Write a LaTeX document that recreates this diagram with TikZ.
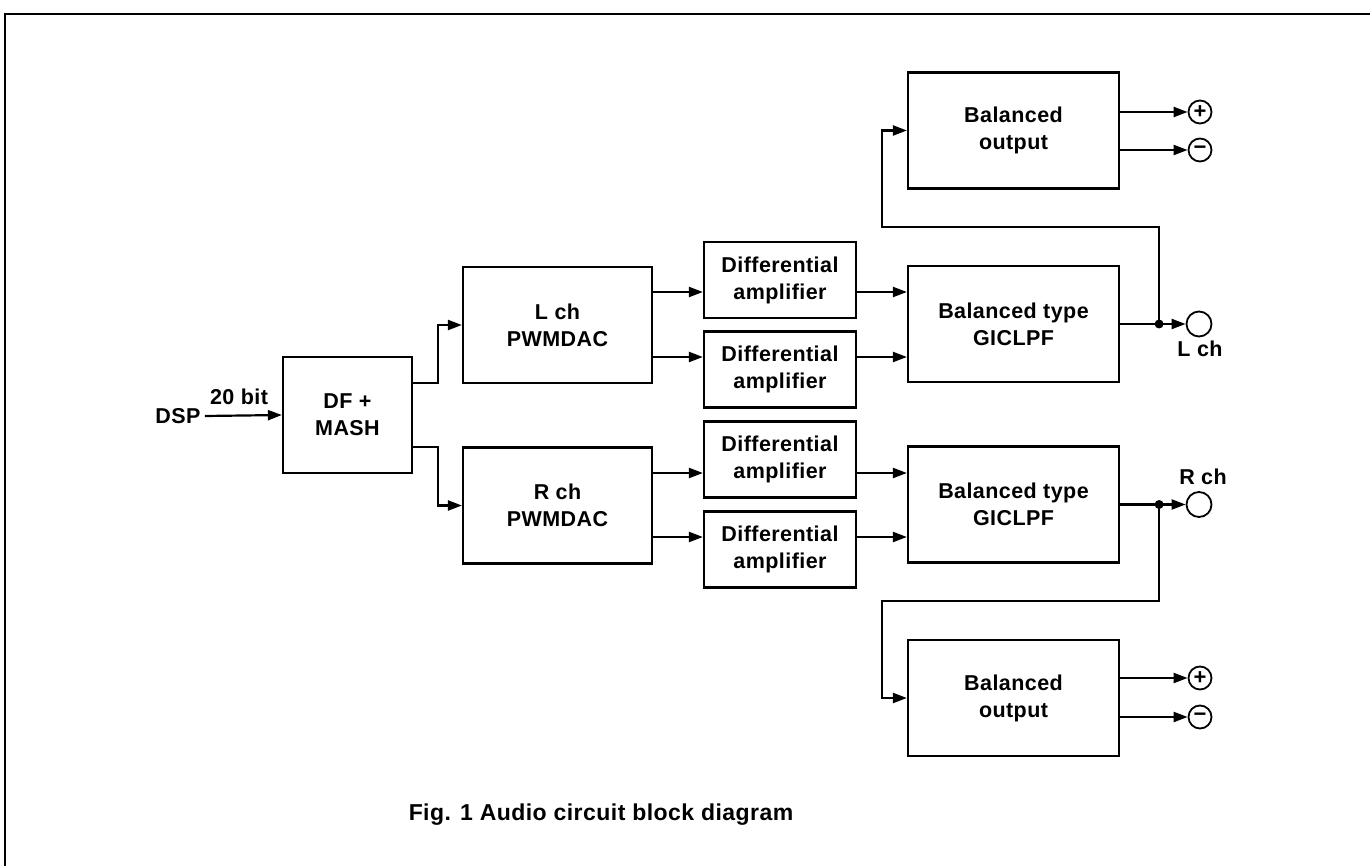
\documentclass[tikz,border=0pt]{standalone}
\usepackage{fontspec}
\setmainfont{Liberation Sans}[LetterSpace=2.0]
\usetikzlibrary{arrows.meta}

\begin{document}
\begin{tikzpicture}[x=1pt,y=-1pt,line width=2.2pt,
  blk/.style={draw,rectangle,align=center,inner sep=0pt,font=\bfseries\fontsize{21.5}{27}\selectfont},
  lbl/.style={font=\bfseries\fontsize{21.5}{27}\selectfont},
  term/.style={draw,circle,inner sep=0pt,line width=1.8pt,font=\bfseries\fontsize{22}{22}\selectfont},
  arr/.style={-{Triangle[length=14pt,width=10pt]}}]
  \useasboundingbox (0,0) rectangle (1370,866);
  \draw (1370,14) -- (5,14) -- (5,866);

  % blocks
  \node[blk,minimum width=129pt,minimum height=116pt] (dfmash) at (347.5,415) {DF +\\MASH};
  \node[blk,minimum width=189pt,minimum height=116pt] (lpwm) at (557.5,325) {L ch\\PWMDAC};
  \node[blk,minimum width=189pt,minimum height=116pt] (rpwm) at (557.5,505.5) {R ch\\PWMDAC};
  \foreach \id/\y in {ldifa/280,ldifb/369.5,rdifa/459.5,rdifb/549.5}
    \node[blk,minimum width=152pt,minimum height=76pt] (\id) at (780,\y) {Differential\\amplifier};
  \node[blk,minimum width=211pt,minimum height=116pt] (llpf) at (1013.5,324) {Balanced type\\GICLPF};
  \node[blk,minimum width=211pt,minimum height=116pt] (rlpf) at (1013.5,504.5) {Balanced type\\GICLPF};
  \node[blk,minimum width=211pt,minimum height=116pt] (lbal) at (1013.5,130.5) {Balanced\\output};
  \node[blk,minimum width=211pt,minimum height=116pt] (rbal) at (1013.5,698) {Balanced\\output};

  % input
  \node[lbl] (dsp) at (178,416) {DSP};
  \node[lbl] (bits) at (239,397) {20 bit};
  \draw[arr] (dsp.east) -- (dfmash.west);
  \draw[arr] ([yshift=32pt]dfmash.east) -- ++(25,0) |- (lpwm.west);
  \draw[arr] ([yshift=-32pt]dfmash.east) -- ++(25,0) |- (rpwm.west);

  % differential paths
  \coordinate (ya) at (0,292);
  \coordinate (yb) at (0,357);
  \coordinate (yc) at (0,473);
  \coordinate (yd) at (0,537);
  \foreach \d/\p/\f/\y in {ldifa/lpwm/llpf/ya,ldifb/lpwm/llpf/yb,rdifa/rpwm/rlpf/yc,rdifb/rpwm/rlpf/yd}{
    \draw[arr] (\p.east |- \y) -- (\d.west |- \y);
    \draw[arr] (\d.east |- \y) -- (\f.west |- \y);
  }

  % outputs
  \node[term,minimum size=25pt] (lout) at (1199,324) {};
  \node[term,minimum size=25pt] (rout) at (1199,504.5) {};
  \node[lbl] (lch) at (1200,349) {L ch};
  \node[lbl] (rch) at (1203,477) {R ch};
  \coordinate (ldot) at ([xshift=39pt]llpf.east);
  \coordinate (rdot) at ([xshift=39pt]rlpf.east);
  \coordinate (lturn) at (882,227);
  \coordinate (rturn) at (882,601);
  \draw[arr] (llpf.east) -- (lout);
  \draw[arr] (rlpf.east) -- (rout);
  \fill (ldot) circle (4.5pt);
  \fill (rdot) circle (4.5pt);
  \draw[arr] (ldot) |- (lturn) |- (lbal.west);
  \draw[arr] (rdot) |- (rturn) |- (rbal.west);

  \foreach \id/\y/\s in {lplus/112/+,lminus/150/−,rplus/678/+,rminus/717/−}
    \node[term,minimum size=23pt] (\id) at (1200,\y) {\s};
  \draw[arr] (lbal.east |- lplus) -- (lplus);
  \draw[arr] (lbal.east |- lminus) -- (lminus);
  \draw[arr] (rbal.east |- rplus) -- (rplus);
  \draw[arr] (rbal.east |- rminus) -- (rminus);

  \node[lbl,font=\bfseries\fontsize{23}{27}\selectfont] (cap) at (601,815) {Fig. 1 Audio circuit block diagram};
\end{tikzpicture}
\end{document}
